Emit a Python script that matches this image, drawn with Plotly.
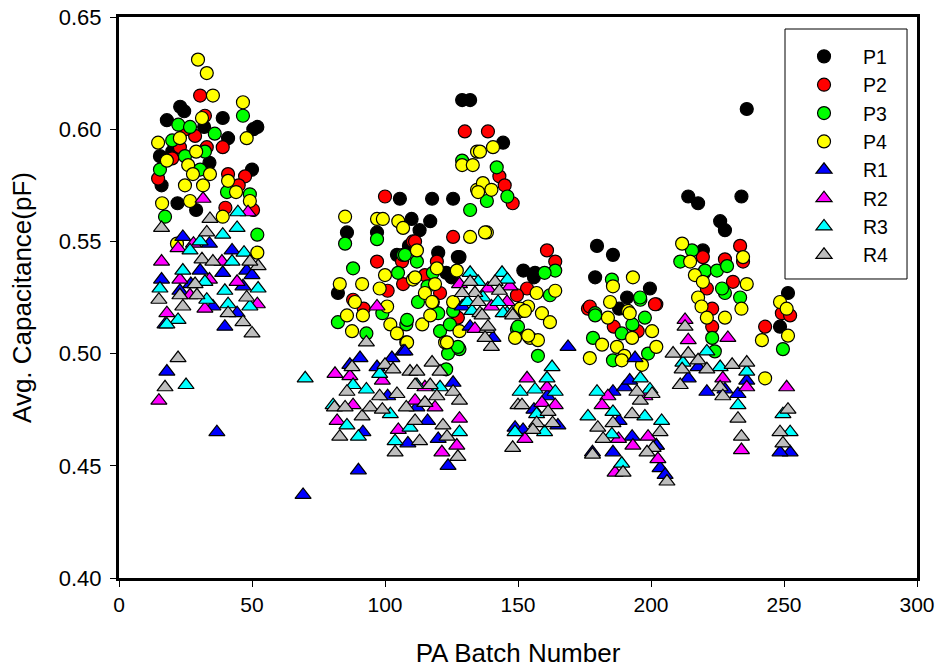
import plotly.graph_objects as go

# ---- data (batch number, avg capacitance) ----
p1_x = [18, 23, 24.5, 39, 52, 50.5, 41, 50, 15.4, 16, 22, 29, 34, 32, 20,
        129, 132, 105.6, 117.7, 125.6, 85.7, 110, 117, 113, 97, 128, 104.5, 82.3, 123, 127.4, 125, 144.4, 109, 120,
        152, 156.4, 156,
        179.7, 185.7, 179, 199.6, 191, 188,
        236, 214, 217.7, 234, 226, 227.8, 219.5, 251.5, 248.5, 220]
p1_y = [0.604, 0.610, 0.608, 0.605, 0.601, 0.600, 0.596, 0.582, 0.588, 0.575, 0.567, 0.564, 0.585, 0.601, 0.590,
        0.613, 0.613, 0.569, 0.569, 0.569, 0.554, 0.560, 0.559, 0.555, 0.554, 0.543, 0.544, 0.527, 0.536, 0.543, 0.534, 0.594, 0.548, 0.545,
        0.537, 0.536, 0.534,
        0.548, 0.544, 0.534, 0.529, 0.525, 0.520,
        0.609, 0.570, 0.567, 0.570, 0.559, 0.555, 0.546, 0.527, 0.512, 0.536]

p2_x = [30.5, 32.3, 28.6, 22.9, 39, 14.7, 41, 47.4, 50.4, 40, 33, 25, 20, 45,
        130, 138.7, 100, 125.6, 110.5, 97, 106.4, 101, 119.5, 88, 143, 145, 148, 106.8, 120.7, 127.4, 111.3, 92, 115,
        160.9, 164, 153.4, 149.6,
        202, 176.3, 177, 186, 195,
        219.5, 227.8, 233.5, 234.6, 230.8, 221, 201.5, 249.2, 223, 242.9, 252.3, 223]
p2_y = [0.615, 0.606, 0.597, 0.592, 0.592, 0.578, 0.580, 0.579, 0.564, 0.565, 0.592, 0.600, 0.587, 0.575,
        0.599, 0.599, 0.570, 0.552, 0.550, 0.541, 0.541, 0.528, 0.541, 0.524, 0.579, 0.575, 0.567, 0.531, 0.527, 0.516, 0.550, 0.520, 0.535,
        0.546, 0.541, 0.529, 0.526,
        0.522, 0.520, 0.521, 0.512, 0.510,
        0.543, 0.542, 0.548, 0.541, 0.532, 0.529, 0.522, 0.518, 0.520, 0.512, 0.517, 0.512]

p3_x = [22.3, 26.7, 46.6, 15.4, 24.8, 32.3, 30.5, 49.2, 40.6, 17.3, 52, 20, 36,
        132, 85, 97, 106.8, 88, 112, 104.9, 129, 118, 128, 123.7, 123, 82.3, 93, 108, 120, 99, 142, 146, 138.3,
        120.7, 124.4, 125.6, 127.4, 107.5, 112.4, 108.3, 116,
        164, 160, 162, 157.5, 149.6, 150,
        185.3, 196, 179, 179, 197.7, 189, 178.2, 185.7, 198.9, 193,
        211, 215.4, 220.3, 224.8, 228.6, 227.8, 233.5, 226.7, 195.9, 223, 249.6, 224]
p3_y = [0.602, 0.601, 0.606, 0.582, 0.588, 0.590, 0.582, 0.571, 0.572, 0.561, 0.553, 0.595, 0.598,
        0.564, 0.549, 0.551, 0.544, 0.538, 0.541, 0.536, 0.586, 0.536, 0.502, 0.500, 0.493, 0.514, 0.509, 0.513, 0.518, 0.518, 0.583, 0.570, 0.568,
        0.510, 0.513, 0.519, 0.503, 0.544, 0.523, 0.515, 0.530,
        0.537, 0.536, 0.526, 0.499, 0.511, 0.512,
        0.533, 0.524, 0.518, 0.517, 0.516, 0.509, 0.507, 0.497, 0.500, 0.513,
        0.541, 0.546, 0.537, 0.537, 0.539, 0.527, 0.525, 0.529, 0.525, 0.507, 0.502, 0.501]

p4_x = [29.7, 33, 35.3, 31.2, 46.6, 48, 14.7, 22.9, 18, 29, 26, 34.2, 27.8, 24.8, 31.6, 41, 44, 49.2, 16.2, 26.7, 39, 52, 21.8,
        129, 133, 85, 97, 99.2, 105, 106.8, 132, 112, 83, 91.4, 100, 110.5, 119.5, 98, 118.8, 127, 88.7, 115, 118, 100.8,
        134.6, 134.6, 85.7, 91.7, 87.6, 102, 108, 104.5, 117.7, 114, 117, 122.6, 128, 125.6, 135.7, 140.6, 136.8, 135, 140,
        138.3, 137.6, 111.3, 123.3, 148.9, 108.3,
        151.5, 153.8, 159, 162, 154.5, 157.5, 157, 164, 150.8, 152.6, 153.8,
        193.2, 185.7, 184.6, 191.4, 183.8, 192, 200.4, 181.6, 192.9, 202, 177, 187.2, 190, 189, 196.6,
        211.7, 214.7, 216.5, 219.5, 234.6, 236, 217.7, 219, 234, 227.8, 248.5, 251, 221, 242.9, 241.7, 251.5]
p4_y = [0.631, 0.625, 0.615, 0.605, 0.612, 0.596, 0.594, 0.596, 0.586, 0.590, 0.584, 0.580, 0.580, 0.575, 0.575, 0.577, 0.572, 0.568, 0.567, 0.568, 0.561, 0.545, 0.549,
        0.584, 0.584, 0.561, 0.560, 0.560, 0.559, 0.556, 0.552, 0.546, 0.531, 0.531, 0.535, 0.533, 0.538, 0.529, 0.531, 0.537, 0.523, 0.527, 0.523, 0.521,
        0.590, 0.573, 0.517, 0.517, 0.510, 0.513, 0.505, 0.509, 0.523, 0.513, 0.517, 0.505, 0.510, 0.523, 0.590, 0.592, 0.576, 0.572, 0.573,
        0.554, 0.554, 0.534, 0.505, 0.507, 0.505,
        0.519, 0.521, 0.518, 0.514, 0.507, 0.506, 0.527, 0.528, 0.520, 0.519, 0.508,
        0.534, 0.530, 0.523, 0.519, 0.516, 0.518, 0.510, 0.504, 0.507, 0.503, 0.498, 0.503, 0.499, 0.497, 0.495,
        0.549, 0.541, 0.535, 0.532, 0.543, 0.531, 0.525, 0.521, 0.520, 0.516, 0.523, 0.520, 0.516, 0.489, 0.506, 0.508]

r1_x = [24, 34, 42.5, 16, 30.5, 39, 48, 50, 46.6, 35.3, 44.4, 39.8, 17.3, 18, 36.8, 22.9, 27,
        90.6, 106.8, 102.6, 86.8, 97, 101, 125.6, 116, 108.6, 123.7, 90, 69.2, 91.7, 107.5, 112, 120,
        129, 132, 140.6,
        148.9, 151.9, 165, 161, 168.8, 156,
        185.7, 190, 192, 192.9, 178, 202, 185.7, 203.4, 194, 188,
        221, 227.8, 232.7, 236, 252.3, 248.5, 217.7, 202, 205.3, 214]
r1_y = [0.552, 0.549, 0.546, 0.533, 0.537, 0.536, 0.537, 0.535, 0.530, 0.521, 0.518, 0.512, 0.513, 0.492, 0.465, 0.528, 0.531,
        0.498, 0.501, 0.498, 0.495, 0.494, 0.481, 0.487, 0.470, 0.460, 0.450, 0.448, 0.437, 0.465, 0.501, 0.476, 0.462,
        0.521, 0.512, 0.507,
        0.467, 0.466, 0.468, 0.481, 0.503, 0.475,
        0.483, 0.485, 0.488, 0.463, 0.456, 0.459, 0.456, 0.449, 0.498, 0.470,
        0.483, 0.484, 0.482, 0.488, 0.456, 0.456, 0.494, 0.459, 0.446, 0.489]

r2_x = [16, 22.2, 38.7, 44.4, 22.9, 34, 32.3, 18, 52, 15, 26.7, 31.6, 48.5, 28,
        81.2, 86.8, 99, 88, 82, 111.3, 118.8, 128, 121.4, 127, 97, 105, 115,
        133.8, 128, 138.7, 147, 145.9, 140,
        153.4, 160.9, 164, 159, 152.6,
        183.8, 181.6, 187.8, 193.2, 198.9, 202.6, 186.5, 197.7,
        212.8, 214, 228.9, 251, 236, 234, 227]
r2_y = [0.541, 0.547, 0.541, 0.532, 0.533, 0.533, 0.520, 0.518, 0.522, 0.479, 0.526, 0.569, 0.563, 0.549,
        0.491, 0.490, 0.488, 0.477, 0.470, 0.479, 0.476, 0.471, 0.456, 0.459, 0.521, 0.466, 0.485,
        0.511, 0.531, 0.529, 0.530, 0.523, 0.521,
        0.489, 0.485, 0.477, 0.478, 0.462,
        0.481, 0.477, 0.462, 0.459, 0.463, 0.453, 0.447, 0.481,
        0.515, 0.506, 0.507, 0.485, 0.485, 0.457, 0.489]

r3_x = [44.7, 44.4, 39, 30.5, 26.7, 42.5, 24, 32.3, 15.4, 39.8, 52.3, 33, 41, 49.2, 22.2, 18, 25.2, 47,
        70, 88, 93, 98, 80.5, 85.7, 90, 102, 109.4, 120.7, 103.8, 128, 112, 115,
        132, 135, 144, 130.8, 136.8, 142.5, 132.7, 145.9, 131, 144.4, 146,
        162.8, 160.9, 164, 156.4, 150.8, 148.9, 160, 157,
        179.7, 196, 176.3, 185.7, 185.3, 199.6, 197.7, 204, 189,
        221, 226, 236, 232.7, 252.3, 249.6, 212]
r3_y = [0.563, 0.556, 0.553, 0.550, 0.546, 0.541, 0.537, 0.532, 0.529, 0.528, 0.529, 0.524, 0.522, 0.521, 0.515, 0.513, 0.486, 0.545,
        0.489, 0.486, 0.484, 0.491, 0.477, 0.468, 0.463, 0.473, 0.467, 0.485, 0.461, 0.465, 0.486, 0.478,
        0.536, 0.532, 0.536, 0.523, 0.525, 0.523, 0.519, 0.518, 0.523, 0.518, 0.533,
        0.494, 0.489, 0.483, 0.484, 0.483, 0.465, 0.465, 0.473,
        0.483, 0.489, 0.472, 0.474, 0.464, 0.484, 0.472, 0.470, 0.451,
        0.501, 0.494, 0.492, 0.477, 0.465, 0.473, 0.496]

r4_x = [16, 34.2, 33, 31.2, 35.3, 52.3, 49.2, 28.6, 15, 22.9, 29.3, 48, 24, 41, 46.6, 50, 22.2, 17.3,
        93, 87.6, 100, 103, 109.4, 112, 117.7, 120.7, 85.7, 98, 104.5, 111.3, 117, 119.5, 125.6, 128,
        81, 85, 91.4, 94.4, 99, 108, 115, 121.8, 83, 103.8, 111.3, 113, 127.4, 123.3,
        135.7, 138.3, 140, 147.7, 132, 141.4, 133.8, 143, 129, 135, 136.5, 148, 138.7, 137.6,
        150, 148, 151.5, 157, 161.3, 163, 155.6,
        180, 185.7, 178, 192.9, 196, 200.4, 203.4, 200.8, 206, 189.5, 182, 194.7,
        212.8, 214, 208.3, 211.7, 211, 217.7, 221, 230.5, 236, 226, 227, 232.7, 234, 251.5, 248.5, 249.6, 198.5]
r4_y = [0.556, 0.560, 0.554, 0.542, 0.541, 0.539, 0.541, 0.531, 0.524, 0.526, 0.526, 0.525, 0.521, 0.518, 0.514, 0.509, 0.498, 0.485,
        0.505, 0.494, 0.495, 0.493, 0.492, 0.492, 0.496, 0.492, 0.483, 0.481, 0.482, 0.486, 0.486, 0.481, 0.483, 0.479,
        0.476, 0.476, 0.472, 0.476, 0.475, 0.476, 0.478, 0.468, 0.463, 0.456, 0.470, 0.461, 0.454, 0.463,
        0.518, 0.511, 0.503, 0.518, 0.532, 0.532, 0.527, 0.528, 0.527, 0.523, 0.517, 0.517, 0.512, 0.507,
        0.477, 0.458, 0.477, 0.469, 0.474, 0.469, 0.466,
        0.467, 0.469, 0.455, 0.473, 0.479, 0.482, 0.465, 0.458, 0.443, 0.447, 0.462, 0.483,
        0.512, 0.500, 0.500, 0.493, 0.486, 0.497, 0.493, 0.495, 0.496, 0.485, 0.481, 0.471, 0.463, 0.475, 0.465, 0.460, 0.456]

series = [
    ("P1", p1_x, p1_y, "#000000", "circle"),
    ("P2", p2_x, p2_y, "#FF0000", "circle"),
    ("P3", p3_x, p3_y, "#00FF00", "circle"),
    ("P4", p4_x, p4_y, "#FFFF00", "circle"),
    ("R1", r1_x, r1_y, "#0000FF", "triangle-up"),
    ("R2", r2_x, r2_y, "#FF00FF", "triangle-up"),
    ("R3", r3_x, r3_y, "#00FFFF", "triangle-up"),
    ("R4", r4_x, r4_y, "#BEBEBE", "triangle-up"),
]

FONT = "Liberation Sans, Arial, sans-serif"

fig = go.Figure()
for name, xs, ys, col, sym in series:
    fig.add_trace(go.Scatter(
        x=xs, y=ys, mode="markers", name=name,
        marker=dict(color=col, symbol=sym, size=13 if sym == "circle" else 14,
                    line=dict(color="#000000", width=1.2)),
    ))

# legend frame (box drawn as a shape, items by plotly's legend)
fig.add_shape(type="rect", xref="paper", yref="paper",
              x0=0.8346, x1=0.9875, y0=0.533, y1=0.9786,
              line=dict(color="#000000", width=1), fillcolor="white", layer="below")

fig.update_layout(
    width=937, height=668,
    margin=dict(l=119, r=20, t=17, b=90),
    paper_bgcolor="white", plot_bgcolor="white",
    font=dict(family=FONT, color="#000000"),
    showlegend=True,
    legend=dict(
        x=0.8346, y=0.964, xanchor="left", yanchor="top",
        bgcolor="rgba(0,0,0,0)", borderwidth=0,
        font=dict(size=19.5, family=FONT), itemsizing="trace", itemwidth=68,
        tracegroupgap=0,
    ),
    xaxis=dict(
        range=[0, 300], tick0=0, dtick=50, showgrid=False, zeroline=False,
        showline=True, linewidth=3, linecolor="#000000", mirror=True,
        ticks="outside", ticklen=6, tickwidth=1, tickcolor="#000000",
        tickfont=dict(size=21, family=FONT), automargin=False,
        title=dict(text="PA Batch Number", font=dict(size=26, family=FONT), standoff=32),
    ),
    yaxis=dict(
        range=[0.40, 0.65], tick0=0.40, dtick=0.05, tickformat=".2f",
        showgrid=False, zeroline=False,
        showline=True, linewidth=3, linecolor="#000000", mirror=True,
        ticks="outside", ticklen=6, tickwidth=1, tickcolor="#000000",
        tickfont=dict(size=22, family=FONT), automargin=False, ticklabelstandoff=4,
        title=dict(text="Avg. Capacitance(pF)", font=dict(size=26, family=FONT), standoff=20),
    ),
)

fig.write_html("out.html", config={"displayModeBar": False},
               post_script="document.body.style.margin='0px';")
